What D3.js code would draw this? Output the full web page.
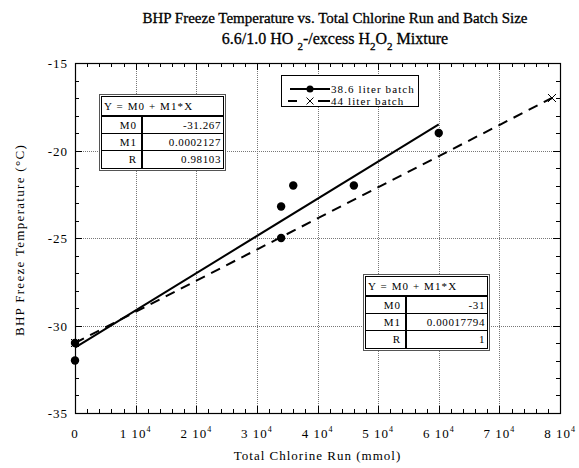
<!DOCTYPE html>
<html>
<head>
<meta charset="utf-8">
<script src="https://cdn.jsdelivr.net/npm/d3@7"></script>
<style>
  body { margin: 0; background: #fff; }
  svg { font-family: "Liberation Serif", "DejaVu Serif", serif; }
</style>
</head>
<body>
<div id="chart"></div>
<script>
// data
const batch386X = [0, 0, 34000, 34000, 36000, 46000, 60000];
const batch386Y = [-31, -32, -23.2, -25, -22, -22, -19];
const batch44X = [0, 78680];
const batch44Y = [-31, -17];

// fit tables (as printed on the chart)
const fitLabels = ['M0', 'M1', 'R'];
const fit386 = ['-31.267', '0.0002127', '0.98103'];
const fit44 = ['-31', '0.00017794', '1'];

const xTicks = [0, 10000, 20000, 30000, 40000, 50000, 60000, 70000, 80000];
const yTicks = [-35, -30, -25, -20, -15];

const W = 579, H = 468;
const margin = {left: 75, right: 19, top: 63, bottom: 55};

const svg = d3.select('#chart').append('svg')
  .attr('width', W)
  .attr('height', H)

const x = d3.scaleLinear().domain([0, 80000]).range([margin.left, W - margin.right])
const y = d3.scaleLinear().domain([-35, -15]).range([H - margin.bottom, margin.top])

const x0 = x.range()[0], x1 = x.range()[1]
const y0 = y.range()[0], y1 = y.range()[1]

// grid (dotted)
const grid = svg.append('g')
  .attr('stroke', '#777')
  .attr('stroke-width', 1)
  .attr('stroke-dasharray', '1,1')
grid.selectAll('.gx').data(xTicks.slice(1, -1)).enter().append('line')
  .attr('x1', (d) => Math.round(x(d)) + 0.5).attr('x2', (d) => Math.round(x(d)) + 0.5)
  .attr('y1', y1).attr('y2', y0)
grid.selectAll('.gy').data(yTicks.slice(1, -1)).enter().append('line')
  .attr('y1', (d) => Math.round(y(d)) + 0.5).attr('y2', (d) => Math.round(y(d)) + 0.5)
  .attr('x1', x0).attr('x2', x1)

// frame + ticks on all four sides, pointing inward
const minorX = d3.range(0, 80001, 2000)
const minorY = d3.range(-35, -14.9, 1)
const ticks = svg.append('g').attr('stroke', '#000').attr('stroke-width', 1)
const isMajX = (d) => d % 10000 === 0
const isMajY = (d) => d % 5 === 0
ticks.selectAll('.tb').data(minorX).enter().append('line')
  .attr('x1', (d) => Math.round(x(d)) + 0.5).attr('x2', (d) => Math.round(x(d)) + 0.5)
  .attr('y1', y0).attr('y2', (d) => y0 - (isMajX(d) ? 7 : 4))
ticks.selectAll('.tt').data(minorX).enter().append('line')
  .attr('x1', (d) => Math.round(x(d)) + 0.5).attr('x2', (d) => Math.round(x(d)) + 0.5)
  .attr('y1', y1).attr('y2', (d) => y1 + (isMajX(d) ? 7 : 4))
ticks.selectAll('.tl').data(minorY).enter().append('line')
  .attr('y1', (d) => Math.round(y(d)) + 0.5).attr('y2', (d) => Math.round(y(d)) + 0.5)
  .attr('x1', x0).attr('x2', (d) => x0 + (isMajY(d) ? 7 : 4))
ticks.selectAll('.tr').data(minorY).enter().append('line')
  .attr('y1', (d) => Math.round(y(d)) + 0.5).attr('y2', (d) => Math.round(y(d)) + 0.5)
  .attr('x1', x1).attr('x2', (d) => x1 - (isMajY(d) ? 7 : 4))

svg.append('rect')
  .attr('x', x0 + 0.5).attr('y', y1 + 0.5)
  .attr('width', x1 - x0).attr('height', y0 - y1)
  .attr('fill', 'none').attr('stroke', '#000').attr('stroke-width', 1.2)

// tick labels
svg.append('g').selectAll('text').data(yTicks).enter().append('text')
  .attr('x', x0 - 7)
  .attr('y', (d) => y(d) + 5)
  .attr('text-anchor', 'end')
  .style('font-size', '13px').style('letter-spacing', '1px')
  .text((d) => d)

const xl = svg.append('g').selectAll('text').data(xTicks).enter().append('text')
  .attr('x', (d) => x(d))
  .attr('y', y0 + 25)
  .attr('text-anchor', 'middle')
  .style('font-size', '13px').style('letter-spacing', '1px')
xl.each(function (d) {
  const t = d3.select(this)
  if (d === 0) { t.text('0'); return }
  t.append('tspan').text((d / 10000) + ' 10')
  t.append('tspan').attr('dy', -6).style('font-size', '8px').text('4')
})

// axis titles
svg.append('text')
  .attr('x', (x0 + x1) / 2).attr('y', H - 8)
  .attr('text-anchor', 'middle')
  .style('font-size', '13px').style('letter-spacing', '1px')
  .text('Total Chlorine Run (mmol)')

svg.append('text')
  .attr('transform', 'translate(24,' + ((y0 + y1) / 2 + 2) + ') rotate(-90)')
  .attr('text-anchor', 'middle')
  .style('font-size', '13px').style('letter-spacing', '1.3px')
  .text('BHP Freeze Temperature (°C)')

// title
svg.append('text')
  .attr('x', 335).attr('y', 23)
  .attr('text-anchor', 'middle')
  .style('font-size', '15px')
  .attr('stroke', '#000').attr('stroke-width', 0.3)
  .text('BHP Freeze Temperature vs. Total Chlorine Run and Batch Size')

const sub = svg.append('text')
  .attr('x', 335).attr('y', 44)
  .attr('text-anchor', 'middle')
  .style('font-size', '16px')
  .attr('stroke', '#000').attr('stroke-width', 0.3)
sub.append('tspan').text('6.6/1.0 HO ')
sub.append('tspan').attr('dy', 6).style('font-size', '11px').text('2')
sub.append('tspan').attr('dy', -6).text('-/excess H')
sub.append('tspan').attr('dy', 6).style('font-size', '11px').text('2')
sub.append('tspan').attr('dy', -6).text('O')
sub.append('tspan').attr('dy', 6).style('font-size', '11px').text('2')
sub.append('tspan').attr('dy', -6).text(' Mixture')

// fit lines
const fitLine = (coef, xs) => {
  const m0 = +coef[0], m1 = +coef[1]
  const xa = d3.min(xs), xb = d3.max(xs)
  return [[xa, m0 + m1 * xa], [xb, m0 + m1 * xb]]
}
const line = d3.line().x((d) => x(d[0])).y((d) => y(d[1]))

svg.append('path')
  .attr('d', line(fitLine(fit44, batch44X)))
  .attr('fill', 'none').attr('stroke', '#000').attr('stroke-width', 2)
  .attr('stroke-dasharray', '10,7')

svg.append('path')
  .attr('d', line(fitLine(fit386, batch386X)))
  .attr('fill', 'none').attr('stroke', '#000').attr('stroke-width', 2)

// markers
const pts386 = batch386X.map((d, i) => [d, batch386Y[i]])
const pts44 = batch44X.map((d, i) => [d, batch44Y[i]])

svg.append('g').selectAll('circle').data(pts386).enter().append('circle')
  .attr('cx', (d) => x(d[0])).attr('cy', (d) => y(d[1]))
  .attr('r', 4.2).attr('fill', '#000')

const cross = (g, cx, cy, s) => {
  g.append('path')
    .attr('d', `M${cx - s},${cy - s}L${cx + s},${cy + s}M${cx - s},${cy + s}L${cx + s},${cy - s}`)
    .attr('stroke', '#000').attr('stroke-width', 1).attr('fill', 'none')
}
const crossG = svg.append('g')
pts44.forEach((d) => cross(crossG, x(d[0]), y(d[1]), 4))

// legend
const lg = svg.append('g')
lg.append('rect')
  .attr('x', 281.5).attr('y', 75.5).attr('width', 137).attr('height', 31)
  .attr('fill', '#fff').attr('stroke', '#000').attr('stroke-width', 1)
lg.append('line').attr('x1', 290).attr('x2', 330).attr('y1', 89).attr('y2', 89)
  .attr('stroke', '#000').attr('stroke-width', 2)
lg.append('circle').attr('cx', 310).attr('cy', 89).attr('r', 3.5).attr('fill', '#000')
;[[288, 297], [318, 330]].forEach((s) => {
  lg.append('line').attr('x1', s[0]).attr('x2', s[1]).attr('y1', 101).attr('y2', 101)
    .attr('stroke', '#000').attr('stroke-width', 2)
})
cross(lg, 310, 101, 3.5)
lg.append('text').attr('x', 331).attr('y', 93).style('font-size', '11px').style('letter-spacing', '1.1px').text('38.6 liter batch')
lg.append('text').attr('x', 331).attr('y', 105).style('font-size', '11px').style('letter-spacing', '1.1px').text('44 liter batch')

// fit tables
const drawTable = (left, top, vals) => {
  const w = 126, hh = 22, rh = 17, cw = 43
  const g = svg.append('g')
  const h = hh + rh * 3 + 3
  g.append('rect').attr('x', left + 0.5).attr('y', top + 0.5).attr('width', w).attr('height', h)
    .attr('fill', '#fff').attr('stroke', '#555').attr('stroke-width', 1)
  g.append('rect').attr('x', left + 2.5).attr('y', top + 2.5).attr('width', w - 4).attr('height', h - 4)
    .attr('fill', 'none').attr('stroke', '#000').attr('stroke-width', 1)
  g.append('line').attr('x1', left + 2).attr('x2', left + w - 1)
    .attr('y1', top + hh).attr('y2', top + hh).attr('stroke', '#000').attr('stroke-width', 2)
  g.append('line').attr('x1', left + cw).attr('x2', left + cw)
    .attr('y1', top + hh).attr('y2', top + h - 1).attr('stroke', '#000').attr('stroke-width', 2)
  ;[1, 2].forEach((i) => {
    g.append('line').attr('x1', left + 2).attr('x2', left + w - 1)
      .attr('y1', top + hh + rh * i + 0.5).attr('y2', top + hh + rh * i + 0.5)
      .attr('stroke', '#000').attr('stroke-width', 1)
  })
  g.append('text').attr('x', left + 5).attr('y', top + 16)
    .style('font-size', '11px').style('letter-spacing', '1.1px').text('Y = M0 + M1*X')
  fitLabels.forEach((lab, i) => {
    g.append('text').attr('x', left + cw - 5).attr('y', top + hh + rh * i + 13)
      .attr('text-anchor', 'end').style('font-size', '11px').style('letter-spacing', '1px').text(lab)
    g.append('text').attr('x', left + w - 4).attr('y', top + hh + rh * i + 13)
      .attr('text-anchor', 'end').style('font-size', '11px').style('letter-spacing', '0.6px').text(vals[i])
  })
}
drawTable(99, 94, fit386)
drawTable(363, 274, fit44)
</script>
</body>
</html>
